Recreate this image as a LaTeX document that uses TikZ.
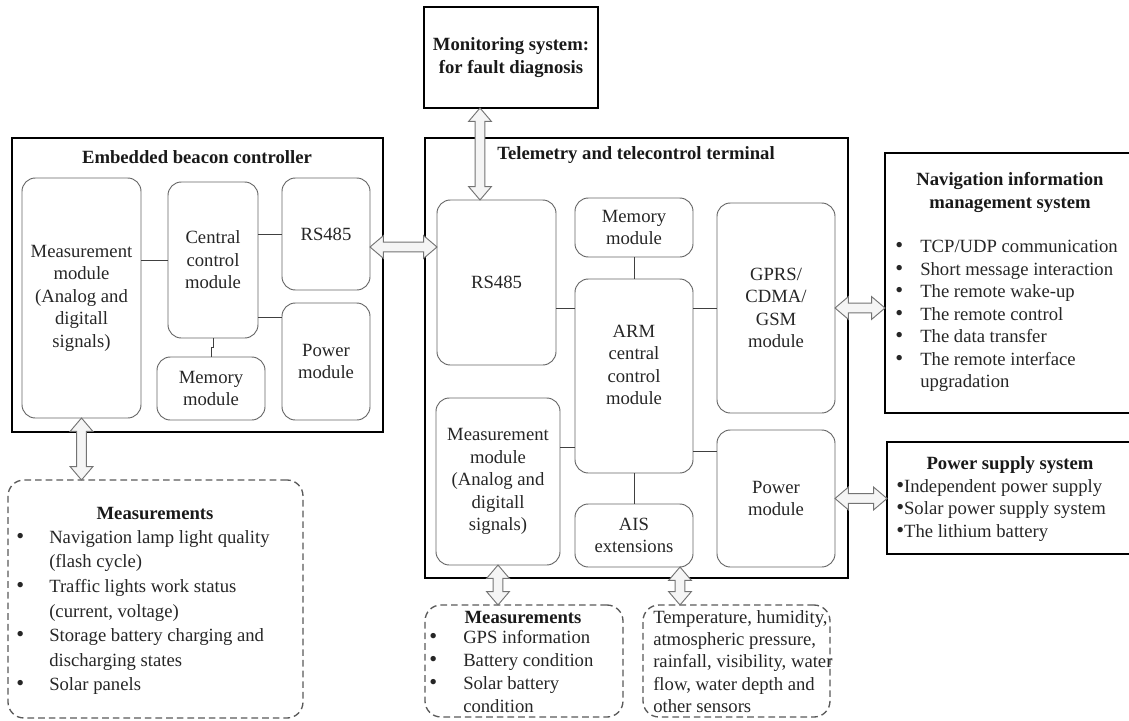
\documentclass[tikz,border=0pt]{standalone}
\usepackage{fontspec}
\setmainfont{Liberation Serif}
\usetikzlibrary{calc}
\newcommand\fsz{\fontsize{14}{16.9}\selectfont}
\newcommand\bigbul{\smash{\scalebox{1.2}{\textbullet}}}
\newcommand\bl[1]{\makebox[#1][l]{\bigbul}}
\tikzset{
 outerbox/.style={draw=black, line width=2.2pt, inner sep=0pt, outer sep=0pt},
 innerbox/.style={draw=black!60, line width=0.7pt, rounded corners=10pt, inner sep=0pt, outer sep=0pt, align=center, font=\fsz, text=black!85},
 dbox/.style={draw=black!65, line width=1pt, dash pattern=on 5pt off 3pt, rounded corners=12pt, inner sep=0pt, outer sep=0pt},
 wire/.style={draw=black!75, line width=0.7pt},
 barrowstyle/.style={draw=black!55, fill=black!4, line width=0.7pt, line join=miter},
 titletxt/.style={font=\fsz\bfseries, align=center, inner sep=0pt, text=black!90},
 listtxt/.style={align=left, inner sep=0pt, text=black!85, anchor=north west},
}
% box from (x1,y1) to (x2,y2) in pixel units
\newcommand\bx[7]{\node[#6, minimum width={(#4-#2)*0.75pt}, minimum height={(#5-#3)*0.75pt}] (#1) at ({(#2+#4)/2},{(#3+#5)/2}) {#7};}
% hollow double-headed block arrow between two points
\newcommand\barrow[2]{%
\path[barrowstyle] let \p1=(#1), \p2=(#2), \n2={veclen(\x2-\x1,\y2-\y1)}, \n3={(\x2-\x1)/\n2}, \n4={(\y2-\y1)/\n2} in
 ({\x1},{\y1})
 -- ({\x1+10*\n3-8.5*\n4},{\y1+10*\n4+8.5*\n3})
 -- ({\x1+10*\n3-3.7*\n4},{\y1+10*\n4+3.7*\n3})
 -- ({\x1+(\n2-10pt)*\n3-3.7*\n4},{\y1+(\n2-10pt)*\n4+3.7*\n3})
 -- ({\x1+(\n2-10pt)*\n3-8.5*\n4},{\y1+(\n2-10pt)*\n4+8.5*\n3})
 -- ({\x2},{\y2})
 -- ({\x1+(\n2-10pt)*\n3+8.5*\n4},{\y1+(\n2-10pt)*\n4-8.5*\n3})
 -- ({\x1+(\n2-10pt)*\n3+3.7*\n4},{\y1+(\n2-10pt)*\n4-3.7*\n3})
 -- ({\x1+10*\n3+3.7*\n4},{\y1+10*\n4-3.7*\n3})
 -- ({\x1+10*\n3+8.5*\n4},{\y1+10*\n4-8.5*\n3})
 -- cycle;}
\begin{document}
\begin{tikzpicture}[x=0.75pt,y=-0.75pt]
\useasboundingbox (0,0) rectangle (1129,721);
\clip (0,0) rectangle (1129,721);

% outer boxes
\bx{mon}{424}{7}{598}{108}{outerbox,titletxt}{Monitoring system:\\for fault diagnosis}
\bx{emb}{12}{138}{383}{432}{outerbox}{}
\bx{tel}{425}{138}{848}{578}{outerbox}{}
\bx{nav}{885}{153}{1135}{413}{outerbox}{}
\bx{psu}{887}{442}{1135}{554}{outerbox}{}

% dashed boxes
\bx{mb1}{8}{480}{303}{718}{dbox}{}
\bx{mb2}{425}{605}{623}{717}{dbox}{}
\bx{mb3}{643}{605}{830}{717}{dbox}{}

% titles
\node[titletxt] (embt) at (197,157) {Embedded beacon controller};
\node[titletxt] (telt) at (636,155) {Telemetry and telecontrol terminal};
\node[titletxt] (navt) at (1010,192.5) {Navigation information\\management system};
\node[titletxt] (psut) at (1010,465) {Power supply system};
\node[titletxt] (mb1t) at (155,513) {Measurements};
\node[titletxt] (mb2t) at (523,617) {Measurements};

% embedded beacon controller modules
\bx{emeas}{22}{178}{141}{418}{innerbox}{Measurement\\module\\(Analog and\\digitall\\signals)}
\bx{ecen}{168}{182}{258}{338}{innerbox}{Central\\control\\module}
\bx{ers}{282}{178}{370}{290}{innerbox}{RS485}
\bx{epow}{282}{303}{370}{420}{innerbox}{Power\\module}
\bx{emem}{157}{357}{265}{420}{innerbox}{Memory\\module}

% telemetry terminal modules
\bx{trs}{437}{200}{556}{365}{innerbox}{RS485}
\bx{tmem}{575}{198}{693}{257}{innerbox}{Memory\\module}
\bx{arm}{575}{279}{693}{473}{innerbox}{ARM\\central\\control\\module\\\mbox{}}
\bx{gprs}{717}{203}{835}{413}{innerbox}{GPRS/\\CDMA/\\GSM\\module}
\bx{tpow}{717}{430}{835}{567}{innerbox}{Power\\module}
\bx{tmeas}{436}{398}{560}{565}{innerbox}{Measurement\\module\\(Analog and\\digitall\\signals)}
\bx{ais}{575}{504}{693}{567}{innerbox}{AIS\\extensions}

% lists
\node[listtxt, font=\fontsize{14}{18.45}\selectfont] (mb1l) at (16,530) {\bl{24.75pt}Navigation lamp light quality\\\hspace*{24.75pt}(flash cycle)\\\bl{24.75pt}Traffic lights work status\\\hspace*{24.75pt}(current, voltage)\\\bl{24.75pt}Storage battery charging and\\\hspace*{24.75pt}discharging states\\\bl{24.75pt}Solar panels};
\node[listtxt, font=\fontsize{14}{16.9}\selectfont] (navl) at (895,240) {\bl{18.75pt}TCP/UDP communication\\\bl{18.75pt}Short message interaction\\\bl{18.75pt}The remote wake-up\\\bl{18.75pt}The remote control\\\bl{18.75pt}The data transfer\\\bl{18.75pt}The remote interface\\\hspace*{18.75pt}upgradation};
\node[listtxt, font=\fontsize{14}{16.9}\selectfont] (psul) at (896,479) {\bigbul Independent power supply\\\bigbul Solar power supply system\\\bigbul The lithium battery};
\node[listtxt, font=\fontsize{14}{17.25}\selectfont] (mb2l) at (429,630) {\bl{25.5pt}GPS information\\\bl{25.5pt}Battery condition\\\bl{25.5pt}Solar battery\\\hspace*{25.5pt}condition};
\node[listtxt, font=\fontsize{14}{16.7}\selectfont] (mb3l) at (653,610) {Temperature, humidity,\\atmospheric pressure,\\rainfall, visibility, water\\flow, water depth and\\other sensors};

% wires
\draw[wire] (emeas.east |- ecen.west) -- (ecen.west);
\draw[wire] (ecen.east |- ers.west) -- (ers.west);
\draw[wire] (ecen.east) ++(0,57) coordinate (w1) -- (w1 -| epow.west);
\draw[wire] (ecen.south) -- ++(0,9) -| (emem.north);
\draw[wire] (tmem.south) -- (arm.north);
\draw[wire] (arm.south) -- (ais.north);
\draw[wire] (trs.east |- gprs.west) -- (arm.west |- gprs.west);
\draw[wire] (arm.east |- gprs.west) -- (gprs.west);
\draw[wire] (arm.east) ++(0,75) coordinate (w2) -- (w2 -| tpow.west);
\draw[wire] (arm.west) ++(0,71) coordinate (w3) -- (w3 -| tmeas.east);

% block arrows
\coordinate (a1) at ($(trs.north west)+(43,0)$);
\barrow{a1 |- mon.south}{a1}
\coordinate (a2) at ($(ers.east)+(0,13)$);
\barrow{a2}{a2 -| trs.west}
\barrow{emeas.south}{emeas.south |- mb1.north}
\barrow{gprs.east}{gprs.east -| nav.west}
\barrow{tpow.east}{tpow.east -| psu.west}
\barrow{tmeas.south}{tmeas.south |- mb2.north}
\coordinate (a7) at ($(ais.south)+(46,0)$);
\barrow{a7}{a7 |- mb3.north}
\end{tikzpicture}
\end{document}
